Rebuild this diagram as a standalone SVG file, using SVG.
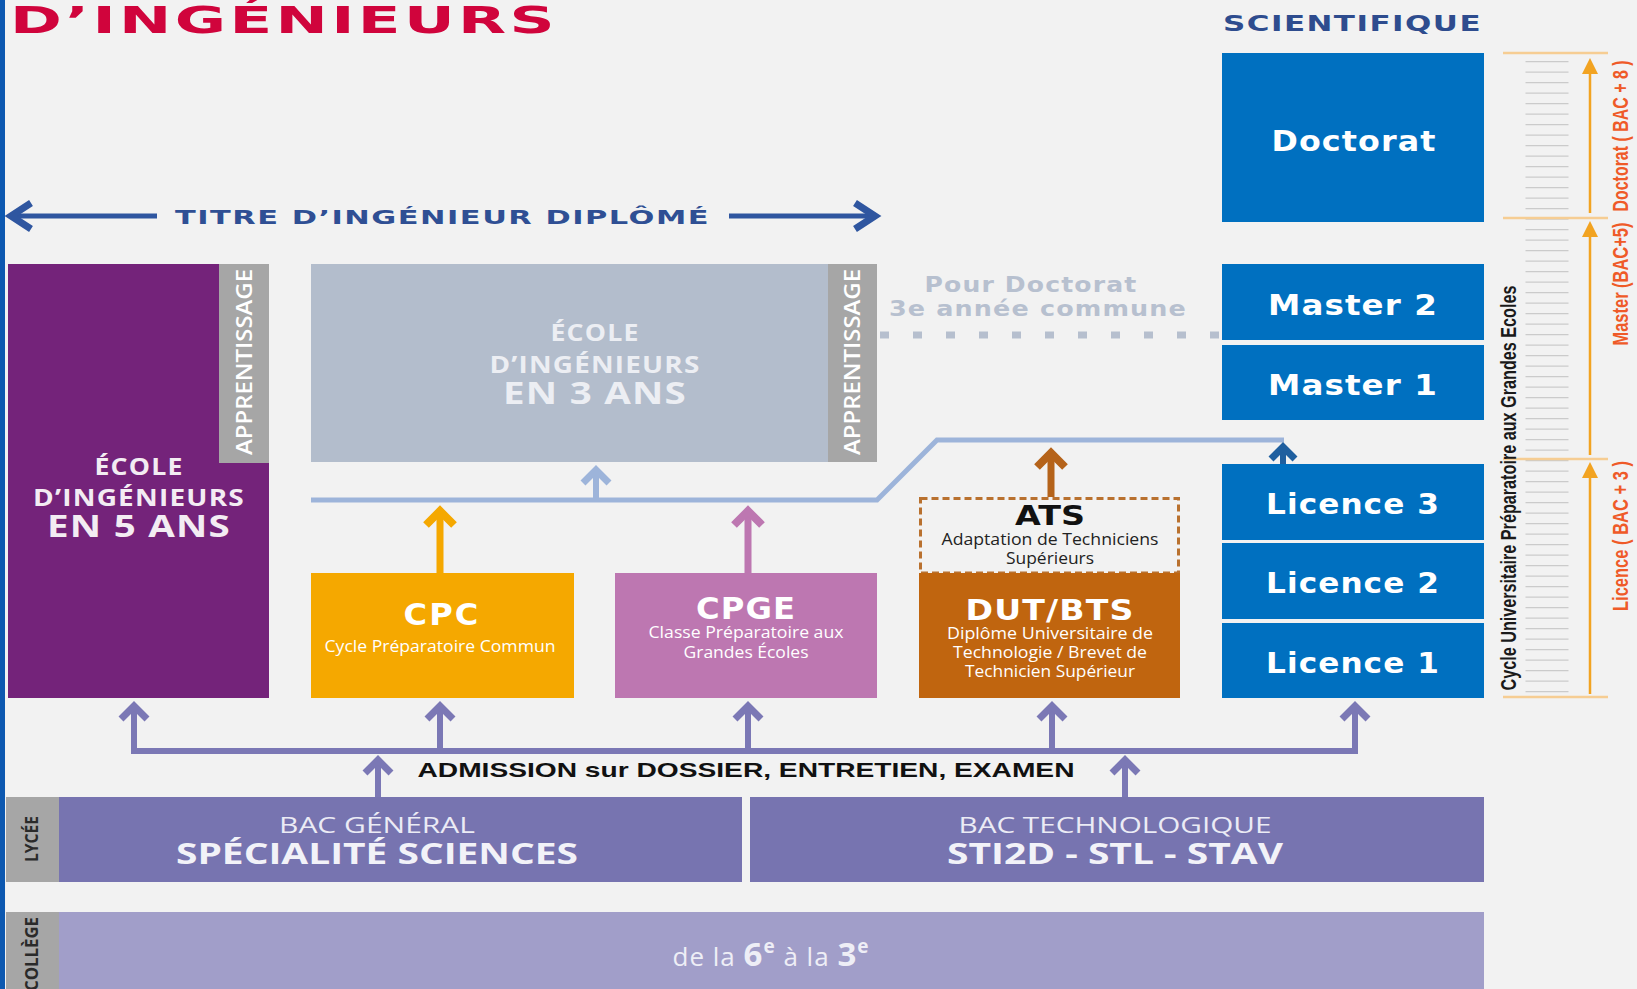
<svg xmlns="http://www.w3.org/2000/svg" width="1637" height="989" viewBox="0 0 1637 989">
<defs>
<style>
.wide{font-family:"DejaVu Sans","Liberation Sans",sans-serif;font-weight:bold}
.cal{font-family:"Open Sans","Noto Sans",sans-serif}
.calb{font-family:"Open Sans","Noto Sans",sans-serif;font-weight:bold}
.ar{font-family:"Liberation Sans",Arial,sans-serif;font-weight:bold}
.w{fill:#ffffff}
.c{text-anchor:middle}
.blue{fill:#0070c0}
.btxt{font-family:"DejaVu Sans","Liberation Sans",sans-serif;font-weight:bold;font-size:29px;fill:#ffffff;text-anchor:middle}
.strip{fill:#a6a6a6}
.appr{font-family:"Open Sans","Noto Sans",sans-serif;font-weight:600;font-size:22px;fill:#ffffff;text-anchor:middle}
.chev{fill:none;stroke-linejoin:miter;stroke-linecap:butt}
.olbl{font-family:"Liberation Sans",Arial,sans-serif;font-weight:bold;font-size:22px;fill:#ef5a28;text-anchor:middle}
</style>
</defs>
<rect x="0" y="0" width="1637" height="989" fill="#f2f2f2"/>
<rect x="0" y="0" width="5" height="989" fill="#0d58b0"/>

<g id="header">
<text x="10" y="33" class="wide" font-size="37" fill="#d0043c" letter-spacing="2" textLength="548" lengthAdjust="spacingAndGlyphs">D’INGÉNIEURS</text>
<text x="1223" y="31" class="wide" font-size="21" fill="#2e4c8e" letter-spacing="1" textLength="259" lengthAdjust="spacingAndGlyphs">SCIENTIFIQUE</text>
<text x="175" y="224" class="wide" font-size="20" fill="#2f4f94" letter-spacing="1" textLength="535" lengthAdjust="spacingAndGlyphs">TITRE D’INGÉNIEUR DIPLÔMÉ</text>
</g>

<g id="ecole5">
<rect x="8" y="264" width="261" height="434" fill="#74237a"/>
<rect x="219" y="264" width="50" height="199" class="strip"/>
<text class="appr" x="252" y="362" transform="rotate(-90 252 362)" textLength="186" lengthAdjust="spacingAndGlyphs">APPRENTISSAGE</text>
<g class="calb c" fill="#f3ecf3">
<text x="139" y="475" font-size="23" letter-spacing="1" textLength="89" lengthAdjust="spacingAndGlyphs">ÉCOLE</text>
<text x="139" y="506" font-size="23" letter-spacing="1" textLength="212" lengthAdjust="spacingAndGlyphs">D’INGÉNIEURS</text>
<text x="139" y="537" font-size="31" letter-spacing="1" textLength="184" lengthAdjust="spacingAndGlyphs">EN 5 ANS</text>
</g>
</g>

<g id="ecole3">
<rect x="311" y="264" width="566" height="198" fill="#b3bdcc"/>
<rect x="828" y="264" width="49" height="198" class="strip"/>
<text class="appr" x="860" y="362" transform="rotate(-90 860 362)" textLength="186" lengthAdjust="spacingAndGlyphs">APPRENTISSAGE</text>
<g class="calb c" fill="#eceef3">
<text x="595" y="341" font-size="23" letter-spacing="1" textLength="89" lengthAdjust="spacingAndGlyphs">ÉCOLE</text>
<text x="595" y="373" font-size="23" letter-spacing="1" textLength="211" lengthAdjust="spacingAndGlyphs">D’INGÉNIEURS</text>
<text x="595" y="404" font-size="31" letter-spacing="1" textLength="184" lengthAdjust="spacingAndGlyphs">EN 3 ANS</text>
</g>
</g>

<g id="pour-doctorat">
<text x="1031" y="292" class="wide c" font-size="22" fill="#b7c0cf" letter-spacing="1" textLength="213" lengthAdjust="spacingAndGlyphs">Pour Doctorat</text>
<text x="1038" y="316" class="wide c" font-size="22" fill="#b7c0cf" letter-spacing="1" textLength="298" lengthAdjust="spacingAndGlyphs">3e année commune</text>
</g>

<g id="cpc">
<rect x="311" y="573" width="263" height="125" fill="#f5a800"/>
<text x="442" y="625" class="wide c w" font-size="30" letter-spacing="2" textLength="77" lengthAdjust="spacingAndGlyphs">CPC</text>
<text x="440" y="652" class="cal c w" font-size="17" textLength="231" lengthAdjust="spacingAndGlyphs">Cycle Préparatoire Commun</text>
</g>

<g id="cpge">
<rect x="615" y="573" width="262" height="125" fill="#bd77b1"/>
<text x="746" y="619" class="wide c w" font-size="30" letter-spacing="1" textLength="100" lengthAdjust="spacingAndGlyphs">CPGE</text>
<text x="746" y="638" class="cal c w" font-size="17" textLength="195" lengthAdjust="spacingAndGlyphs">Classe Préparatoire aux</text>
<text x="746" y="658" class="cal c w" font-size="17" textLength="125" lengthAdjust="spacingAndGlyphs">Grandes Écoles</text>
</g>

<g id="ats">
<rect x="920.5" y="498.5" width="258" height="74.5" fill="none" stroke="#b9712f" stroke-width="3" stroke-dasharray="7 4"/>
<text x="1050" y="525" class="wide c" font-size="26" fill="#111" textLength="70" lengthAdjust="spacingAndGlyphs">ATS</text>
<text x="1050" y="545" class="cal c" font-size="17" fill="#222" textLength="217" lengthAdjust="spacingAndGlyphs">Adaptation de Techniciens</text>
<text x="1050" y="564" class="cal c" font-size="17" fill="#222" textLength="88" lengthAdjust="spacingAndGlyphs">Supérieurs</text>
</g>

<g id="dut-bts">
<rect x="919" y="573" width="261" height="125" fill="#c0650f"/>
<text x="1050" y="620" class="wide c w" font-size="29" letter-spacing="1" textLength="169" lengthAdjust="spacingAndGlyphs">DUT/BTS</text>
<text x="1050" y="639" class="cal c w" font-size="17" textLength="206" lengthAdjust="spacingAndGlyphs">Diplôme Universitaire de</text>
<text x="1050" y="658" class="cal c w" font-size="17" textLength="194" lengthAdjust="spacingAndGlyphs">Technologie / Brevet de</text>
<text x="1050" y="677" class="cal c w" font-size="17" textLength="170" lengthAdjust="spacingAndGlyphs">Technicien Supérieur</text>
</g>

<g id="doctorat"><rect x="1222" y="53" width="262" height="169" class="blue"/><text x="1354" y="151" class="btxt" letter-spacing="1" textLength="165" lengthAdjust="spacingAndGlyphs">Doctorat</text></g>
<g id="master2"><rect x="1222" y="264" width="262" height="76" class="blue"/><text x="1353" y="315" class="btxt" letter-spacing="1" textLength="170" lengthAdjust="spacingAndGlyphs">Master 2</text></g>
<g id="master1"><rect x="1222" y="345" width="262" height="75" class="blue"/><text x="1353" y="395" class="btxt" letter-spacing="1" textLength="170" lengthAdjust="spacingAndGlyphs">Master 1</text></g>
<g id="licence3"><rect x="1222" y="464" width="262" height="76" class="blue"/><text x="1353" y="514" class="btxt" letter-spacing="1" textLength="174" lengthAdjust="spacingAndGlyphs">Licence 3</text></g>
<g id="licence2"><rect x="1222" y="543" width="262" height="76" class="blue"/><text x="1353" y="593" class="btxt" letter-spacing="1" textLength="174" lengthAdjust="spacingAndGlyphs">Licence 2</text></g>
<g id="licence1"><rect x="1222" y="623" width="262" height="75" class="blue"/><text x="1353" y="673" class="btxt" letter-spacing="1" textLength="174" lengthAdjust="spacingAndGlyphs">Licence 1</text></g>

<g id="scale">
<path d="M1547,61 V694" stroke="#cbcbcb" stroke-width="43" stroke-dasharray="1.2 9.3" fill="none"/>
<g stroke="#f6cd93" stroke-width="2.5">
<path d="M1503,53 H1608 M1503,218 H1608 M1503,459 H1608 M1503,697 H1608"/>
</g>
<g stroke="#f2a321" stroke-width="2.5">
<path d="M1590,213 V70 M1590,455 V232 M1590,694 V473"/>
</g>
<g fill="#f2a321">
<polygon points="1590,58 1582,74 1598,74"/>
<polygon points="1590,221 1582,237 1598,237"/>
<polygon points="1590,462 1582,478 1598,478"/>
</g>
<text class="olbl" x="1628" y="136" transform="rotate(-90 1628 136)" textLength="151" lengthAdjust="spacingAndGlyphs">Doctorat ( BAC + 8 )</text>
<text class="olbl" x="1628" y="284" transform="rotate(-90 1628 284)" textLength="123" lengthAdjust="spacingAndGlyphs">Master (BAC+5)</text>
<text class="olbl" x="1628" y="536" transform="rotate(-90 1628 536)" textLength="150" lengthAdjust="spacingAndGlyphs">Licence ( BAC + 3 )</text>
<text x="1516" y="488" transform="rotate(-90 1516 488)" class="ar c" font-size="22" fill="#1a1a1a" textLength="405" lengthAdjust="spacingAndGlyphs">Cycle Universitaire Préparatoire aux Grandes Ecoles</text>
</g>

<g id="lycee">
<rect x="6" y="797" width="53" height="85" class="strip"/>
<text x="38" y="839" transform="rotate(-90 38 839)" class="calb c" font-size="18" fill="#2a2a2a" textLength="46" lengthAdjust="spacingAndGlyphs">LYCÉE</text>
</g>
<g id="bac-general">
<rect x="59" y="797" width="683" height="85" fill="#7774b0"/>
<text x="377" y="833" class="cal c" font-size="22" fill="#ebebf5" textLength="196" lengthAdjust="spacingAndGlyphs">BAC GÉNÉRAL</text>
<text x="377" y="864" class="calb c" font-size="29" fill="#f2f2f8" textLength="402" lengthAdjust="spacingAndGlyphs">SPÉCIALITÉ SCIENCES</text>
</g>
<g id="bac-techno">
<rect x="750" y="797" width="734" height="85" fill="#7774b0"/>
<text x="1115" y="833" class="cal c" font-size="22" fill="#ebebf5" textLength="313" lengthAdjust="spacingAndGlyphs">BAC TECHNOLOGIQUE</text>
<text x="1115" y="864" class="calb c" font-size="29" fill="#f2f2f8" textLength="336" lengthAdjust="spacingAndGlyphs">STI2D - STL - STAV</text>
</g>
<g id="college">
<rect x="6" y="912" width="53" height="77" class="strip"/>
<text x="38" y="954" transform="rotate(-90 38 954)" class="calb c" font-size="18" fill="#2a2a2a" textLength="74" lengthAdjust="spacingAndGlyphs">COLLÈGE</text>
<rect x="59" y="912" width="1425" height="77" fill="#a19ec9"/>
<text x="771" y="966" class="cal c" font-size="26" fill="#eeeef6" letter-spacing="1">de la <tspan font-weight="bold" font-size="33">6</tspan><tspan font-weight="bold" font-size="19" dy="-13">e</tspan><tspan dy="13"> à la </tspan><tspan font-weight="bold" font-size="33">3</tspan><tspan font-weight="bold" font-size="19" dy="-13">e</tspan></text>
</g>

<g id="admission-label">
<text x="746" y="777" class="ar c" font-size="21" fill="#111" textLength="657" lengthAdjust="spacingAndGlyphs">ADMISSION sur DOSSIER, ENTRETIEN, EXAMEN</text>
</g>

<g id="connectors">
<g stroke="#2f56a0" class="chev">
<path d="M12,216 H157" stroke-width="5"/>
<path d="M31,203 L11,216 L31,229" stroke-width="7"/>
<path d="M729,216 H872" stroke-width="5"/>
<path d="M855,203 L875,216 L855,229" stroke-width="7"/>
</g>
<path d="M880,335 H1222" stroke="#b6bfce" stroke-width="7" stroke-dasharray="9 24" fill="none"/>
<g stroke="#9db4da" class="chev">
<path d="M311,500 H877 L937,440 H1284" stroke-width="5"/>
<path d="M596,500 V474" stroke-width="6"/>
<path d="M583,483 L596,470 L609,483" stroke-width="7"/>
</g>
<g stroke="#f5a800" class="chev">
<path d="M440,573 V514" stroke-width="7"/>
<path d="M426,525 L440,511 L454,525" stroke-width="8"/>
</g>
<g stroke="#bd77b1" class="chev">
<path d="M748,573 V514" stroke-width="7"/>
<path d="M734,525 L748,511 L762,525" stroke-width="8"/>
</g>
<g stroke="#b5631a" class="chev">
<path d="M1051,497 V456" stroke-width="7"/>
<path d="M1037,467 L1051,453 L1065,467" stroke-width="8"/>
</g>
<g stroke="#1f5f9f" class="chev">
<path d="M1283,464 V451" stroke-width="6"/>
<path d="M1271,459 L1283,447 L1295,459" stroke-width="7"/>
</g>
<g stroke="#7b78b5" class="chev">
<path d="M134,710 V751 H1355 V710" stroke-width="6"/>
<path d="M440,751 V710 M748,751 V710 M1052,751 V710" stroke-width="6"/>
<path d="M121,719 L134,706 L147,719 M427,719 L440,706 L453,719 M735,719 L748,706 L761,719 M1039,719 L1052,706 L1065,719 M1342,719 L1355,706 L1368,719" stroke-width="7"/>
<path d="M378,797 V764 M1125,797 V764" stroke-width="6"/>
<path d="M365,773 L378,760 L391,773 M1112,773 L1125,760 L1138,773" stroke-width="7"/>
</g>
</g>
</svg>
